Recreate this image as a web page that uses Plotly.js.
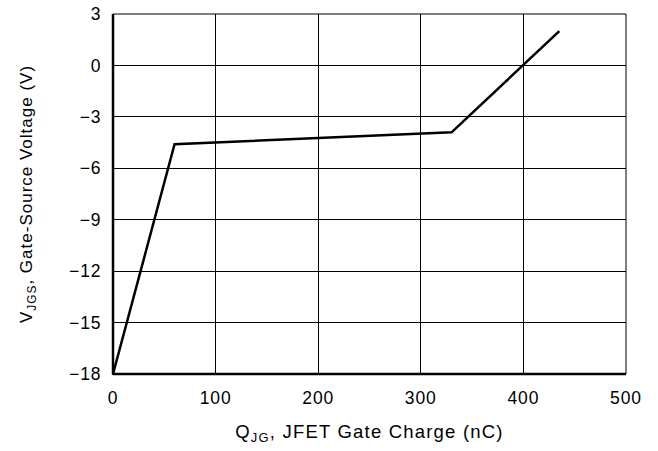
<!DOCTYPE html>
<html><head><meta charset="utf-8">
<script src="https://cdn.plot.ly/plotly-3.0.1.min.js"></script>
<style>
html,body{margin:0;padding:0;background:#fff}#c{width:658px;height:451px}
#c .xtick text, #c .ytick text{letter-spacing:0.9px}
#c text.xtitle{letter-spacing:1.2px}
#c text.ytitle{letter-spacing:1px}
</style>
</head><body><div id="c"></div>
<script>
const charge = [0, 60, 330, 435];
const voltage = [-18, -4.6, -3.9, 2];
const xTicks = [0, 100, 200, 300, 400, 500];
const yTicks = [3, 0, -3, -6, -9, -12, -15, -18];

const trace = {x: charge, y: voltage, mode: 'lines', line: {color: '#000', width: 2.5}, hoverinfo: 'skip'};
const fam = 'Liberation Sans, Arial, sans-serif';
const tickFont = {family: fam, size: 17.5, color: '#000'};
const layout = {
  width: 658, height: 451,
  margin: {l: 113, r: 32, t: 14, b: 77},
  paper_bgcolor: '#fff', plot_bgcolor: '#fff',
  showlegend: false, font: tickFont,
  xaxis: {range: [0, 500], tickvals: xTicks, ticktext: xTicks.map(String),
    showgrid: true, gridcolor: '#000', gridwidth: 1, zeroline: false,
    showline: true, linecolor: '#000', linewidth: 1, ticks: '',
    ticklabelstandoff: 8,
    tickfont: tickFont,
    title: {text: 'Q<sub>JG</sub>, JFET Gate Charge (nC)', font: {family: fam, size: 18.5, color: '#000'}, standoff: 18}},
  yaxis: {range: [-18, 3], tickvals: yTicks, ticktext: yTicks.map(v => v < 0 ? '\u2212' + Math.abs(v) : String(v)),
    showgrid: true, gridcolor: '#000', gridwidth: 1, zeroline: false,
    showline: true, linecolor: '#000', linewidth: 1, ticks: '',
    ticklabelstandoff: 7,
    tickfont: tickFont,
    title: {text: 'V<sub>JGS</sub>, Gate-Source Voltage (V)', font: {family: fam, size: 17, color: '#000'}, standoff: 34}},
  shapes: [
    {type: 'line', xref: 'paper', yref: 'paper', x0: 0, x1: 0, y0: 0, y1: 1, line: {color: '#000', width: 2.5}},
    {type: 'line', xref: 'paper', yref: 'paper', x0: 0, x1: 1, y0: 0, y1: 0, line: {color: '#000', width: 2.5}},
    {type: 'line', xref: 'paper', yref: 'paper', x0: 0, x1: 1, y0: 1, y1: 1, line: {color: '#000', width: 1}},
    {type: 'line', xref: 'paper', yref: 'paper', x0: 1, x1: 1, y0: 0, y1: 1, line: {color: '#000', width: 1}}
  ]
};
Plotly.newPlot('c', [trace], layout, {staticPlot: true});
</script></body></html>
